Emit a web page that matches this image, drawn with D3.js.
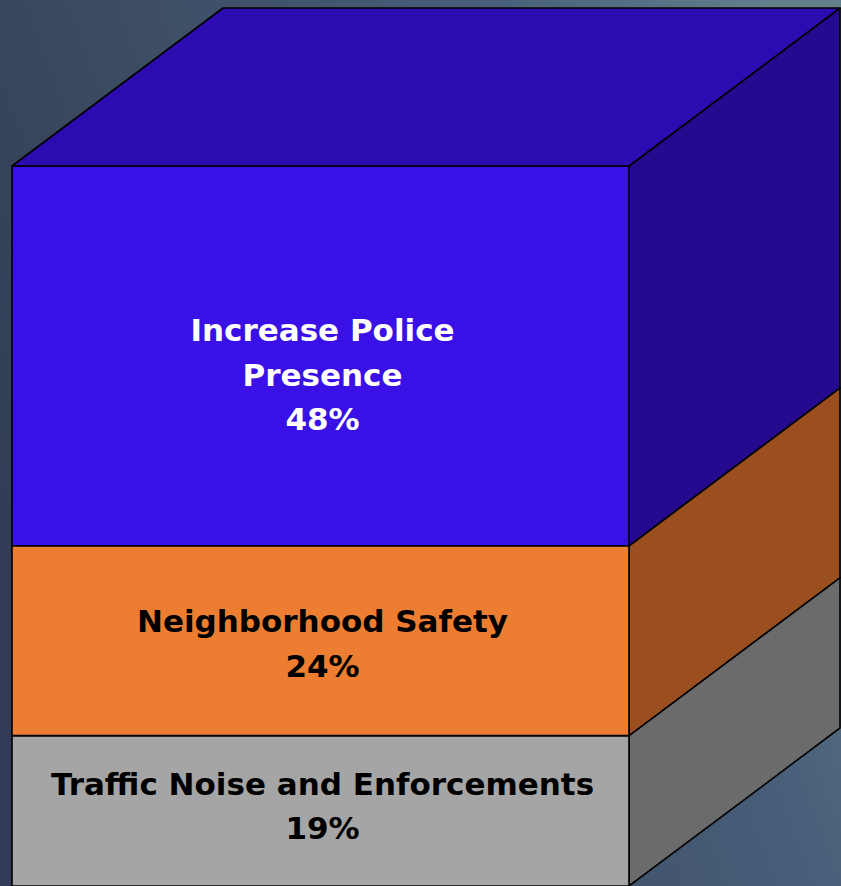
<!DOCTYPE html>
<html>
<head>
<meta charset="utf-8">
<script src="https://cdn.jsdelivr.net/npm/d3@7"></script>
<style>
html,body{margin:0;padding:0;overflow:hidden;}
svg{display:block;}
</style>
</head>
<body>
<svg id="chart" width="841" height="886"></svg>
<script>
// ---- data ----
const categories = ["Traffic Noise and Enforcements", "Neighborhood Safety", "Increase Police Presence"];
const labelLines = [["Traffic Noise and Enforcements"], ["Neighborhood Safety"], ["Increase Police", "Presence"]];
const values = [19, 24, 48];

// ---- styles ----
const frontColors = ["#a5a5a5", "#ed7d31", "#3910e6"];
const sideColors  = ["#6b6b6b", "#9b4f1f", "#25098f"];
const topColor    = "#2c0cb0";
const textColors  = ["#000000", "#000000", "#ffffff"];
const labelNudge  = [5, -3, -19]; // layout tweak (px, upward)

const W = 841, H = 886;
const svg = d3.select("#chart");

// background gradient
const defs = svg.append("defs");
const bg = defs.append("linearGradient").attr("id", "bg")
  .attr("x1", "0").attr("y1", "0.6").attr("x2", "1").attr("y2", "0.2");
bg.append("stop").attr("offset", "0%").attr("stop-color", "#323c56");
bg.append("stop").attr("offset", "30%").attr("stop-color", "#3b4b61");
bg.append("stop").attr("offset", "70%").attr("stop-color", "#485e79");
bg.append("stop").attr("offset", "100%").attr("stop-color", "#62808c");
svg.append("rect").attr("width", W).attr("height", H).attr("fill", "url(#bg)");

// scales
const total = d3.sum(values);
const y = d3.scaleLinear().domain([0, total]).range([886, 166]);
const x = d3.scaleBand().domain(["all"]).range([12, 629]).padding(0);
const depthX = 211, depthY = -158;

const x0 = x("all"), x1 = x("all") + x.bandwidth();
let cum = 0;
const segs = values.map((v, i) => {
  const s = {i, v, lo: cum, hi: cum + v};
  cum += v;
  return s;
});

const line = d3.line();
const g = svg.append("g").attr("stroke", "#000").attr("stroke-width", 1.6).attr("stroke-linejoin", "round");

// side faces
g.selectAll("path.side").data(segs).join("path").attr("class", "side")
  .attr("d", d => line([[x1, y(d.lo)], [x1 + depthX, y(d.lo) + depthY], [x1 + depthX, y(d.hi) + depthY], [x1, y(d.hi)]]) + "Z")
  .attr("fill", d => sideColors[d.i]);

// front faces
g.selectAll("rect.front").data(segs).join("rect").attr("class", "front")
  .attr("x", x0).attr("width", x1 - x0)
  .attr("y", d => y(d.hi)).attr("height", d => y(d.lo) - y(d.hi))
  .attr("fill", d => frontColors[d.i]);

// top face
const yt = y(total);
g.append("path")
  .attr("d", line([[x0, yt], [x0 + depthX, yt + depthY], [x1 + depthX, yt + depthY], [x1, yt]]) + "Z")
  .attr("fill", topColor);

// labels
const lh = 44.5;
const cx = (x0 + x1) / 2 + 2;
segs.forEach(d => {
  const lines = labelLines[d.i].concat([d3.format(".0%")(values[d.i] / 100)]);
  const midY = (y(d.lo) + y(d.hi)) / 2 - labelNudge[d.i];
  const n = lines.length;
  const t = svg.append("text")
    .attr("text-anchor", "middle")
    .attr("font-family", "'DejaVu Sans', sans-serif")
    .attr("font-weight", "bold")
    .attr("font-size", 31)
    .attr("fill", textColors[d.i]);
  lines.forEach((ln, k) => {
    t.append("tspan").attr("x", cx)
      .attr("y", midY + (k - (n - 1) / 2) * lh + 11)
      .text(ln);
  });
});
</script>
</body>
</html>
